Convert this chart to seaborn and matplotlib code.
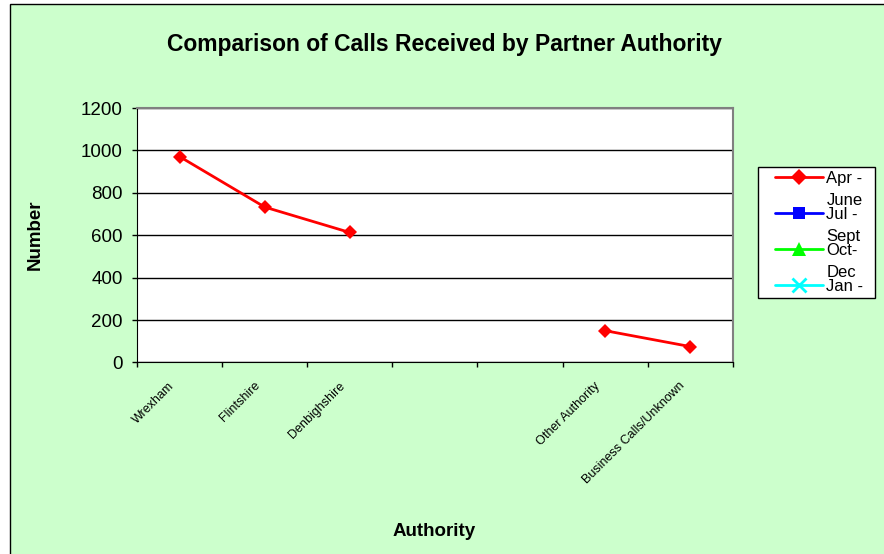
import matplotlib
matplotlib.use("Agg")
import matplotlib.pyplot as plt
from matplotlib.lines import Line2D
from matplotlib.patches import Rectangle
from matplotlib.text import Annotation
from matplotlib.legend_handler import HandlerLine2D
import seaborn as sns
import pandas as pd
import numpy as np

# categories on the x axis (two empty slots between Denbighshire and Other Authority)
authorities = ["Wrexham", "Flintshire", "Denbighshire", "", "", "Other Authority", "Business Calls/Unknown"]
apr_june = [971, 733, 613, np.nan, np.nan, 150, 75]
# legend labels are wrapped in the original: first line next to the handle, second line below
quarter_first = ["Apr -", "Jul -", "Oct-", "Jan -"]
quarter_second = ["June", "Sept", "Dec", ""]
quarter_colors = ["#FF0000", "#0000FF", "#00FF00", "#00FFFF"]
quarter_markers = ["D", "s", "^", "x"]
y_ticks = [0, 200, 400, 600, 800, 1000, 1200]

df = pd.DataFrame({"pos": np.arange(len(authorities)), "Number": apr_june})
# break the line where values are missing
df["run"] = df["Number"].isna().cumsum()
df = df.dropna()

sns.set_style("white")
plt.rcParams["font.family"] = ["Liberation Sans", "DejaVu Sans"]
plt.rcParams["text.color"] = "black"
plt.rcParams["xtick.color"] = "black"
plt.rcParams["ytick.color"] = "black"

fig = plt.figure(figsize=(8.84, 5.54), dpi=100)
fig.patch.set_facecolor("white")
fig.patches.append(Rectangle((9.5 / 884, -0.1), 1.2, 1.1 - 4.5 / 554, transform=fig.transFigure,
                             facecolor="#CCFFCC", edgecolor="black", linewidth=1, zorder=-10))

ax = fig.add_axes([0.155, 0.3457, 0.674, 0.4593])
ax.set_facecolor("white")

sns.lineplot(data=df, x="pos", y="Number", units="run", estimator=None, color="#FF0000",
             marker="D", markersize=7, markeredgewidth=0, linewidth=2, ax=ax)

ax.set_xlim(-0.5, len(authorities) - 0.5)
ax.set_ylim(0, 1200)
ax.set_yticks(y_ticks)
ax.set_yticklabels([str(v) for v in y_ticks], fontsize=13.5)
ax.set_xticks(np.arange(len(authorities) + 1) - 0.5)
ax.set_xticklabels([])
ax.tick_params(axis="both", direction="out", length=3.8, width=1, color="black", left=True, bottom=True)
ax.tick_params(axis="y", pad=6.5)
ax.yaxis.grid(True, color="black", linewidth=1)
ax.set_axisbelow(True)
for side in ["left", "bottom"]:
    ax.spines[side].set_color("black")
for side in ["top", "right"]:
    ax.spines[side].set_color("#808080")
    ax.spines[side].set_linewidth(1.5)
ax.set_xlabel("")
ax.set_ylabel("")

for i, name in enumerate(authorities):
    if name:
        ax.annotate(name, xy=(i, 0), xycoords=("data", "axes fraction"), xytext=(-5, -15.5),
                    textcoords="offset points", rotation=45, ha="right", va="center",
                    rotation_mode="anchor", fontsize=9)

fig.text(0.503, 0.920, "Comparison of Calls Received by Partner Authority", ha="center", va="center",
         fontsize=16.5, fontweight="bold")
fig.text(0.040, 0.576, "Number", rotation=90, ha="center", va="center", fontsize=13.5, fontweight="bold")
fig.text(0.491, 0.041, "Authority", ha="center", va="center", fontsize=13.5, fontweight="bold")

marker_sizes = {"D": 8, "s": 9, "^": 9.5, "x": 10}
handles = [Line2D([], [], color=c, marker=m, linewidth=2, markersize=marker_sizes[m],
                  markeredgewidth=0 if m != "x" else 2)
           for c, m in zip(quarter_colors, quarter_markers)]
leg = fig.legend(handles, quarter_first, loc="upper left",
                 bbox_to_anchor=(758 / 884, 1 - 297 / 554, 117 / 884, 130 / 554),
                 bbox_transform=fig.transFigure, mode="expand", fontsize=12, frameon=True,
                 fancybox=False, edgecolor="black", framealpha=1, borderpad=0.25, labelspacing=1.26,
                 handlelength=3.65, handletextpad=0.2, borderaxespad=0,
                 handler_map={Line2D: HandlerLine2D(xpad=0.75)})
leg.get_frame().set_linewidth(1)

# second line of each wrapped legend label, hung under the first line
for txt, second in zip(leg.get_texts(), quarter_second):
    if second:
        ann = Annotation(second, xy=(0, 0), xycoords=txt, xytext=(0, -4.8), textcoords="offset points",
                         ha="left", va="top", fontsize=12, zorder=6)
        fig.add_artist(ann)

fig.savefig("out.png", dpi=100)
